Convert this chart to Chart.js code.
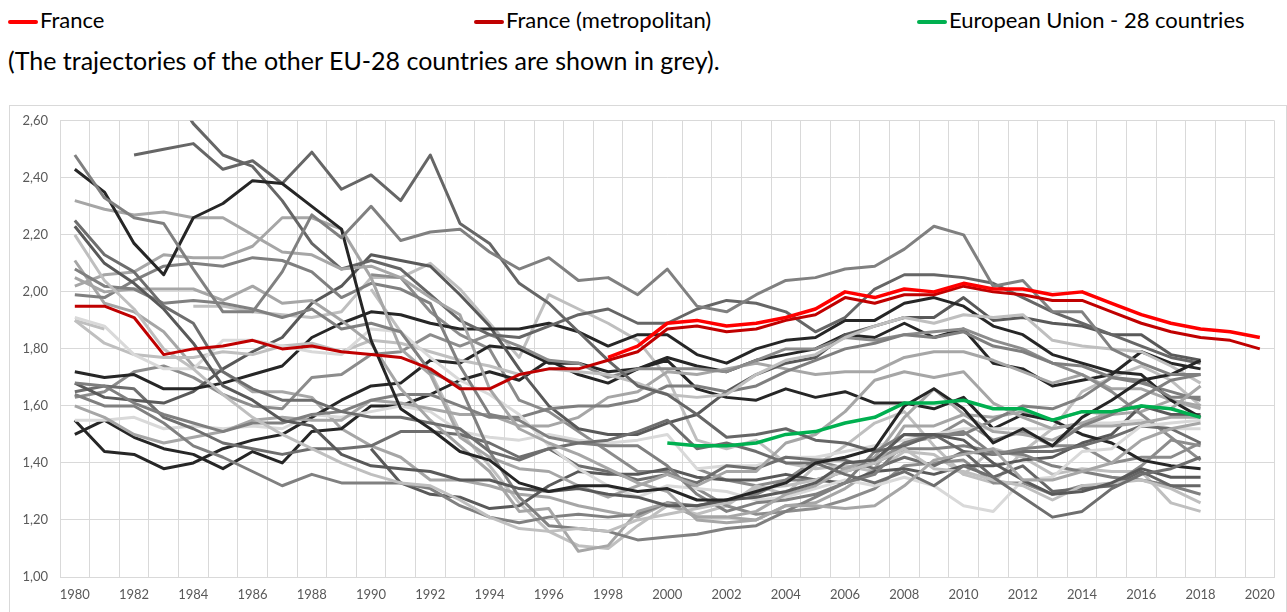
<!DOCTYPE html>
<html lang="en">
  <head>
    <meta charset="UTF-8" />
    <title>Fertility trajectories</title>
    <script src="https://cdn.jsdelivr.net/npm/chart.js@4.4.1/dist/chart.umd.min.js"></script>
    <style>
      body { margin: 0; background: #fff; font-family: Lato, sans-serif; }
      .legend { position: absolute; top: 6px; font-size: 22px; color: #000; white-space: nowrap; }
      .legend span { display: inline-block; width: 30px; height: 4px; border-radius: 2px; vertical-align: middle; margin-right: 2px; }
      .note { position: absolute; left: 8px; top: 45px; font-size: 25px; color: #000; white-space: nowrap; }
      #box { position: absolute; left: 9px; top: 105px; width: 1276px; height: 520px; border: 1px solid #d9d9d9; }
      #wrap { position: absolute; left: 0; top: -5px; width: 1275px; height: 511px; }
    </style>
  </head>
  <body>
    <div class="legend" style="left: 8px"><span style="background:#ff0000"></span>France</div>
    <div class="legend" style="left: 474px"><span style="background:#c00000"></span>France (metropolitan)</div>
    <div class="legend" style="left: 917px"><span style="background:#00b050"></span>European Union - 28 countries</div>
    <div class="note">(The trajectories of the other EU-28 countries are shown in grey).</div>
    <div id="box"><div id="wrap"><canvas id="chart"></canvas></div></div>
    <script>
      const years = []
      for (let y = 1980; y <= 2020; y++) years.push(String(y))
      const yTicks = [1.0, 1.2, 1.4, 1.6, 1.8, 2.0, 2.2, 2.4, 2.6]
      const _ = null

      // France and EU, 1980-2020
      const france = [_,_,_,_,_,_,_,_,_,_,_,_,_,_,_,_,_,_,1.77,1.81,1.89,1.90,1.88,1.89,1.91,1.94,2.00,1.98,2.01,2.00,2.03,2.01,2.01,1.99,2.00,1.96,1.92,1.89,1.87,1.86,1.84]
      const franceMetro = [1.95,1.95,1.91,1.78,1.80,1.81,1.83,1.80,1.81,1.79,1.78,1.77,1.73,1.66,1.66,1.71,1.73,1.73,1.76,1.79,1.87,1.88,1.86,1.87,1.90,1.92,1.98,1.96,1.99,1.99,2.02,2.00,1.99,1.97,1.97,1.93,1.89,1.86,1.84,1.83,1.80]
      const eu28 = [_,_,_,_,_,_,_,_,_,_,_,_,_,_,_,_,_,_,_,_,1.47,1.46,1.46,1.47,1.50,1.51,1.54,1.56,1.61,1.61,1.62,1.59,1.59,1.55,1.58,1.58,1.60,1.59,1.56]

      // other countries, 1980-2018
      const belgium = [1.68,1.67,1.61,1.57,1.54,1.51,1.54,1.54,1.57,1.58,1.62,1.64,1.64,1.60,1.56,1.56,1.59,1.60,1.60,1.62,1.67,1.67,1.65,1.67,1.72,1.76,1.80,1.82,1.85,1.84,1.86,1.81,1.79,1.75,1.74,1.70,1.68,1.65,1.62]
      const bulgaria = [2.05,2.00,2.01,2.01,2.01,1.97,2.02,1.96,1.97,1.90,1.82,1.66,1.55,1.46,1.37,1.23,1.24,1.09,1.11,1.23,1.26,1.21,1.21,1.23,1.29,1.32,1.38,1.42,1.56,1.66,1.57,1.51,1.50,1.48,1.53,1.53,1.54,1.56,1.56]
      const czechia = [2.08,2.02,2.01,1.96,1.97,1.96,1.94,1.91,1.94,1.87,1.89,1.86,1.72,1.67,1.44,1.28,1.18,1.17,1.16,1.13,1.14,1.15,1.17,1.18,1.23,1.28,1.33,1.44,1.50,1.49,1.51,1.43,1.45,1.46,1.53,1.57,1.63,1.69,1.71]
      const denmark = [1.55,1.44,1.43,1.38,1.40,1.45,1.48,1.50,1.56,1.62,1.67,1.68,1.76,1.75,1.81,1.80,1.75,1.75,1.72,1.73,1.77,1.74,1.72,1.76,1.78,1.80,1.85,1.84,1.89,1.84,1.87,1.75,1.73,1.67,1.69,1.71,1.79,1.75,1.73]
      const germany = [_,_,_,_,_,_,_,_,_,_,1.45,1.33,1.29,1.28,1.24,1.25,1.32,1.37,1.36,1.36,1.38,1.35,1.34,1.34,1.36,1.34,1.33,1.37,1.38,1.36,1.39,1.39,1.41,1.42,1.47,1.50,1.60,1.57,1.57]
      const estonia = [2.02,2.06,2.07,2.13,2.12,2.12,2.16,2.26,2.26,2.22,2.05,1.80,1.71,1.49,1.42,1.38,1.37,1.32,1.28,1.32,1.36,1.32,1.37,1.37,1.47,1.50,1.58,1.69,1.72,1.70,1.72,1.61,1.56,1.52,1.54,1.58,1.60,1.59,1.67]
      const ireland = [3.21,3.07,2.96,2.75,2.59,2.48,2.44,2.32,2.17,2.08,2.11,2.08,1.99,1.90,1.85,1.84,1.88,1.92,1.94,1.89,1.89,1.94,1.97,1.96,1.93,1.86,1.91,2.01,2.06,2.06,2.05,2.03,1.98,1.93,1.89,1.85,1.81,1.77,1.75]
      const greece = [2.23,2.10,2.03,1.94,1.82,1.67,1.62,1.55,1.53,1.43,1.39,1.38,1.37,1.34,1.34,1.31,1.30,1.31,1.29,1.28,1.25,1.25,1.27,1.28,1.30,1.33,1.40,1.41,1.50,1.50,1.48,1.40,1.34,1.29,1.30,1.33,1.38,1.35,1.35]
      const spain = [2.20,2.04,1.94,1.80,1.73,1.64,1.56,1.50,1.45,1.40,1.36,1.33,1.32,1.27,1.21,1.17,1.16,1.17,1.16,1.20,1.22,1.24,1.26,1.31,1.32,1.34,1.37,1.40,1.45,1.38,1.37,1.34,1.32,1.27,1.32,1.33,1.34,1.31,1.26]
      const croatia = [_,_,_,_,_,_,_,_,_,_,_,_,_,_,_,_,_,_,_,_,_,1.38,1.34,1.32,1.34,1.41,1.38,1.40,1.47,1.49,1.55,1.48,1.51,1.46,1.46,1.40,1.42,1.42,1.47]
      const italy = [1.64,1.60,1.60,1.54,1.46,1.42,1.37,1.32,1.36,1.33,1.33,1.33,1.31,1.25,1.21,1.19,1.21,1.22,1.21,1.22,1.26,1.25,1.27,1.29,1.34,1.34,1.37,1.40,1.45,1.45,1.46,1.44,1.43,1.39,1.37,1.35,1.34,1.32,1.29]
      const cyprus = [_,_,2.48,2.50,2.52,2.43,2.46,2.38,2.49,2.36,2.41,2.32,2.48,2.24,2.17,2.03,1.96,1.86,1.76,1.67,1.64,1.57,1.49,1.50,1.52,1.48,1.47,1.44,1.46,1.50,1.44,1.35,1.39,1.30,1.31,1.32,1.37,1.32,1.32]
      const latvia = [1.90,1.87,_,_,_,_,_,_,_,_,2.01,1.86,1.72,1.51,1.39,1.26,1.16,1.11,1.10,1.18,1.25,1.22,1.25,1.32,1.29,1.39,1.46,1.54,1.58,1.46,1.36,1.33,1.44,1.52,1.65,1.70,1.74,1.69,1.60]
      const lithuania = [1.99,1.98,2.04,2.09,2.10,2.09,2.12,2.11,2.07,1.98,2.03,2.01,1.96,1.74,1.57,1.55,1.49,1.47,1.46,1.46,1.39,1.29,1.23,1.26,1.27,1.29,1.33,1.36,1.47,1.50,1.50,1.55,1.60,1.59,1.63,1.70,1.69,1.63,1.63]
      const luxembourg = [1.50,1.55,1.49,1.45,1.43,1.38,1.44,1.40,1.51,1.52,1.60,1.60,1.64,1.69,1.72,1.69,1.76,1.71,1.68,1.73,1.76,1.66,1.63,1.62,1.66,1.63,1.65,1.61,1.61,1.59,1.63,1.52,1.57,1.55,1.50,1.47,1.41,1.39,1.38]
      const hungary = [1.91,1.88,1.78,1.73,1.73,1.83,1.83,1.81,1.79,1.78,1.87,1.86,1.77,1.69,1.64,1.57,1.46,1.38,1.32,1.28,1.32,1.31,1.30,1.27,1.28,1.31,1.34,1.32,1.35,1.32,1.25,1.23,1.34,1.35,1.44,1.45,1.53,1.54,1.55]
      const malta = [_,_,_,_,1.95,1.95,1.93,1.92,1.91,1.93,2.05,2.05,2.10,2.01,1.89,1.77,1.99,1.94,1.89,1.83,1.70,1.48,1.45,1.48,1.40,1.38,1.39,1.37,1.44,1.43,1.36,1.45,1.42,1.36,1.38,1.37,1.37,1.26,1.23]
      const netherlands = [1.60,1.56,1.50,1.47,1.49,1.51,1.55,1.56,1.55,1.55,1.62,1.61,1.59,1.57,1.57,1.53,1.53,1.56,1.63,1.65,1.72,1.71,1.73,1.75,1.73,1.71,1.72,1.72,1.77,1.79,1.79,1.76,1.72,1.68,1.71,1.66,1.66,1.62,1.59]
      const austria = [1.65,1.67,1.66,1.56,1.52,1.47,1.45,1.43,1.45,1.45,1.46,1.51,1.51,1.50,1.47,1.42,1.45,1.39,1.37,1.34,1.36,1.33,1.39,1.38,1.42,1.41,1.41,1.38,1.42,1.39,1.44,1.43,1.44,1.44,1.46,1.49,1.53,1.52,1.47]
      const poland = [_,_,_,_,_,_,_,_,_,_,2.06,2.05,1.93,1.85,1.80,1.62,1.58,1.51,1.44,1.37,1.37,1.31,1.25,1.22,1.23,1.24,1.27,1.31,1.39,1.40,1.41,1.33,1.33,1.29,1.32,1.32,1.39,1.48,1.46]
      const portugal = [2.25,2.13,2.07,1.95,1.89,1.72,1.66,1.62,1.62,1.58,1.56,1.56,1.54,1.52,1.44,1.41,1.45,1.47,1.48,1.51,1.55,1.45,1.47,1.44,1.40,1.40,1.36,1.33,1.37,1.32,1.39,1.35,1.28,1.21,1.23,1.31,1.36,1.38,1.42]
      const romania = [2.43,2.35,2.17,2.06,2.26,2.31,2.39,2.38,2.30,2.22,1.83,1.59,1.52,1.44,1.41,1.33,1.30,1.32,1.32,1.30,1.31,1.27,1.27,1.30,1.33,1.40,1.42,1.45,1.60,1.66,1.59,1.47,1.52,1.46,1.56,1.62,1.69,1.71,1.76]
      const slovenia = [2.11,1.96,1.93,1.86,1.74,1.72,1.65,1.65,1.63,1.52,1.46,1.42,1.34,1.34,1.32,1.29,1.28,1.25,1.23,1.21,1.26,1.21,1.21,1.20,1.25,1.26,1.31,1.38,1.53,1.53,1.57,1.56,1.58,1.55,1.58,1.57,1.58,1.62,1.60]
      const slovakia = [2.32,2.29,2.27,2.28,2.26,2.26,2.20,2.14,2.13,2.08,2.09,2.05,1.98,1.92,1.66,1.52,1.47,1.43,1.38,1.33,1.30,1.20,1.19,1.20,1.25,1.25,1.24,1.25,1.32,1.41,1.43,1.45,1.34,1.34,1.37,1.40,1.48,1.52,1.54]
      const finland = [1.63,1.65,1.72,1.74,1.70,1.64,1.60,1.59,1.70,1.71,1.78,1.79,1.85,1.81,1.85,1.81,1.76,1.75,1.70,1.73,1.73,1.73,1.72,1.76,1.80,1.80,1.84,1.83,1.85,1.86,1.87,1.83,1.80,1.75,1.71,1.65,1.57,1.49,1.41]
      const sweden = [1.68,1.63,1.62,1.61,1.65,1.73,1.79,1.84,1.96,2.02,2.13,2.11,2.09,1.99,1.88,1.73,1.60,1.52,1.50,1.50,1.54,1.57,1.65,1.71,1.75,1.77,1.85,1.88,1.91,1.91,1.98,1.90,1.91,1.89,1.88,1.85,1.85,1.78,1.76]
      const uk = [1.90,1.82,1.78,1.77,1.77,1.79,1.78,1.81,1.82,1.79,1.83,1.82,1.79,1.76,1.74,1.71,1.73,1.72,1.71,1.68,1.64,1.63,1.64,1.71,1.76,1.78,1.84,1.88,1.91,1.89,1.92,1.91,1.92,1.83,1.81,1.80,1.79,1.74,1.68]
      const iceland = [2.48,2.33,2.26,2.24,2.08,1.93,1.93,2.07,2.27,2.19,2.30,2.18,2.21,2.22,2.14,2.08,2.12,2.04,2.05,1.99,2.08,1.95,1.93,1.99,2.04,2.05,2.08,2.09,2.15,2.23,2.20,2.02,2.04,1.93,1.93,1.80,1.75,1.71,1.71]
      const norway = [1.72,1.70,1.71,1.66,1.66,1.68,1.71,1.74,1.84,1.89,1.93,1.92,1.89,1.87,1.87,1.87,1.89,1.86,1.81,1.85,1.85,1.78,1.75,1.80,1.83,1.84,1.90,1.90,1.96,1.98,1.95,1.88,1.85,1.78,1.75,1.72,1.71,1.62,1.56]
      const switzerland = [1.55,1.55,1.56,1.52,1.53,1.52,1.53,1.52,1.57,1.56,1.58,1.60,1.58,1.51,1.49,1.48,1.50,1.48,1.47,1.48,1.50,1.38,1.39,1.39,1.42,1.42,1.44,1.46,1.48,1.50,1.52,1.52,1.52,1.52,1.54,1.54,1.55,1.52,1.52]

      const greys = [
        [iceland, '#808080'], [romania, '#262626'], [slovakia, '#a6a6a6'], [portugal, '#6e6e6e'],
        [greece, '#595959'], [spain, '#bfbfbf'], [cyprus, '#666666'], [ireland, '#666666'],
        [czechia, '#808080'], [bulgaria, '#a6a6a6'], [estonia, '#a6a6a6'], [lithuania, '#808080'],
        [hungary, '#d9d9d9'], [uk, '#bfbfbf'], [norway, '#262626'], [belgium, '#7f7f7f'],
        [sweden, '#595959'], [austria, '#6e6e6e'], [italy, '#808080'], [finland, '#8c8c8c'],
        [netherlands, '#a6a6a6'], [switzerland, '#d9d9d9'], [denmark, '#262626'], [luxembourg, '#262626'],
        [germany, '#595959'], [poland, '#8c8c8c'], [slovenia, '#a6a6a6'], [latvia, '#bfbfbf'],
        [malta, '#bfbfbf'], [croatia, '#8c8c8c'],
      ]

      const datasets = [
        { label: 'France', data: france, borderColor: '#ff0000', borderWidth: 3.5 },
        { label: 'France (metropolitan)', data: franceMetro, borderColor: '#c00000', borderWidth: 3 },
        { label: 'European Union - 28 countries', data: eu28, borderColor: '#00b050', borderWidth: 3.5 },
      ]
      greys.forEach(([d, c]) => datasets.push({ data: d, borderColor: c, borderWidth: 3 }))
      datasets.forEach((d) => { d.pointRadius = 0; d.tension = 0; d.fill = false; d.borderJoinStyle = 'round' })

      const tickFont = { family: 'Lato', size: 13 }
      new Chart(document.getElementById('chart'), {
        type: 'line',
        data: { labels: years, datasets: datasets },
        options: {
          responsive: true,
          maintainAspectRatio: false,
          animation: false,
          layout: { padding: { top: 10, right: 8, left: 0, bottom: 0 } },
          plugins: { legend: { display: false }, tooltip: { enabled: false } },
          scales: {
            x: {
              offset: true,
              grid: { offset: true, color: '#d9d9d9', drawTicks: false },
              border: { color: '#d9d9d9' },
              ticks: {
                autoSkip: false, maxRotation: 0, padding: 10, color: '#595959', font: tickFont,
                callback: (v, i) => (i % 2 === 0 ? years[i] : ''),
              },
              afterFit: (s) => { s.height = 35 },
            },
            y: {
              min: 1, max: 2.6,
              grid: { color: '#d9d9d9', drawTicks: false },
              border: { color: '#d9d9d9' },
              afterBuildTicks: (s) => { s.ticks = yTicks.map((v) => ({ value: v })) },
              ticks: {
                padding: 12, color: '#595959', font: tickFont,
                callback: (v) => v.toFixed(2).replace('.', ','),
              },
              afterFit: (s) => { s.width = 50 },
            },
          },
        },
      })
    </script>
  </body>
</html>
